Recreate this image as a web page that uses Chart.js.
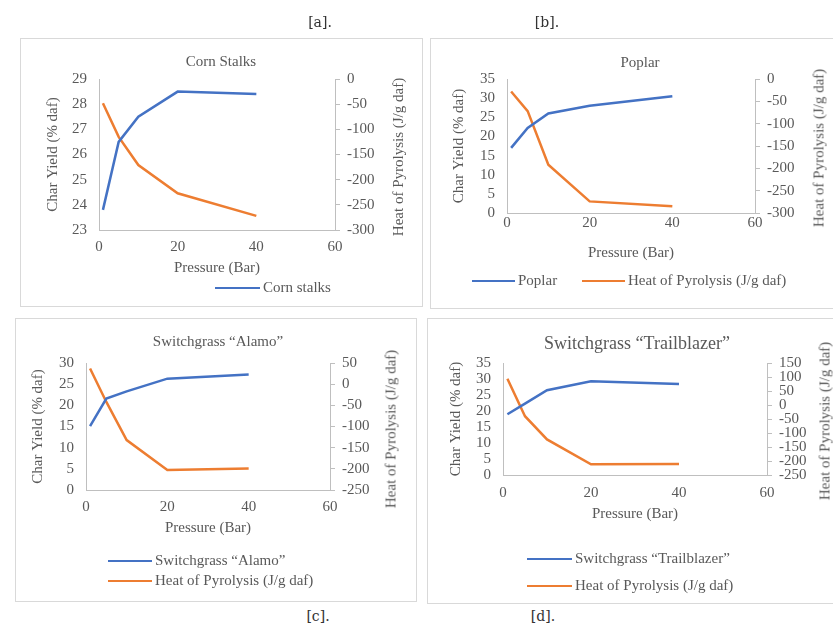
<!DOCTYPE html>
<html lang="en">
<head>
  <meta charset="UTF-8" />
  <title>Char Yield and Heat of Pyrolysis vs Pressure</title>
  <style>
    body {
      margin: 0;
      background: #fff;
      overflow: hidden;
    }
    #page {
      position: relative;
      width: 833px;
      height: 632px;
      font-family: "Liberation Serif", "Times New Roman", serif;
      color: #595959;
    }
    .panel {
      position: absolute;
      background: #fff;
      outline: 1px solid #d9d9d9;
      outline-offset: -1px;
    }
    .panel canvas {
      position: absolute;
      left: 0;
      top: 0;
    }
    .txt {
      position: absolute;
      white-space: nowrap;
      transform: translate(-50%, -50%);
      font-size: 15px;
    }
    .vtxt {
      position: absolute;
      white-space: nowrap;
      transform: translate(-50%, -50%) rotate(-90deg);
      font-size: 15px;
    }
    .cap {
      position: absolute;
      transform: translate(-50%, -50%);
      font-family: "DejaVu Serif", serif;
      font-size: 14px;
      color: #333;
    }
    .leg {
      position: absolute;
      white-space: nowrap;
      font-size: 15px;
      line-height: 18px;
      transform: translateY(-50%);
    }
    .leg i {
      display: inline-block;
      vertical-align: middle;
      height: 0;
      border-top: 2.5px solid;
      margin-right: 3px;
      position: relative;
      top: -1px;
    }
  </style>
</head>
<body>
  <div id="page"></div>

  <script src="https://cdn.jsdelivr.net/npm/chart.js"></script>
  <script>
    // pressure levels (bar)
    const pressure = [1, 5, 10, 20, 40];
    const pressureTicks = [0, 60, 20]; // min, max, step

    // char yield (% daf) per feedstock
    const cornChar = [23.8, 26.5, 27.5, 28.5, 28.4];
    const poplarChar = [17.0, 22.2, 26.0, 28.0, 30.5];
    const alamoChar = [15.1, 21.6, 23.3, 26.3, 27.3];
    const trailChar = [19.0, 22.3, 26.5, 29.3, 28.4];

    // heat of pyrolysis (J/g daf) per feedstock
    const cornHeat = [-48, -115, -171, -227, -272];
    const poplarHeat = [-28, -72, -192, -274, -285];
    const alamoHeat = [37, -42, -132, -203, -199];
    const trailHeat = [94, -40, -123, -212, -211];

    // axis ranges: min, max, step
    const cornCharTicks = [23, 29, 1];
    const cornHeatTicks = [-300, 0, 50];
    const poplarCharTicks = [0, 35, 5];
    const poplarHeatTicks = [-300, 0, 50];
    const alamoCharTicks = [0, 30, 5];
    const alamoHeatTicks = [-250, 50, 50];
    const trailCharTicks = [0, 35, 5];
    const trailHeatTicks = [-250, 150, 50];

    const BLUE = "#4472c4";
    const ORANGE = "#ed7d31";
    const AXIS = "#bfbfbf";
    const TEXT = "#595959";

    Chart.defaults.font.family = '"Liberation Serif", "Times New Roman", serif';
    Chart.defaults.font.size = 15;
    Chart.defaults.color = TEXT;

    const panels = [
      {
        cap: "[a].", capX: 320, capY: 22,
        box: { l: 20, t: 38, w: 403, h: 269 },
        plot: { x0: 99, x1: 335, y0: 79, y1: 230 },
        leftTitleX: 53, rightTitleX: 398, xTickY: 247, xTitleY: 268,
        title: "Corn Stalks", titleX: 221, titleY: 61, titleSize: 15,
        name: "Corn stalks", char: cornChar, heat: cornHeat,
        charTicks: cornCharTicks, heatTicks: cornHeatTicks,
        legend: [{ x: 215, y: 287, len: 45, color: BLUE, text: "Corn stalks" }]
      },
      {
        cap: "[b].", capX: 547, capY: 22,
        box: { l: 430, t: 38, w: 413, h: 271 },
        plot: { x0: 507, x1: 755, y0: 79, y1: 213 },
        leftTitleX: 459, rightTitleX: 819, xTickY: 223, xTitleY: 253,
        title: "Poplar", titleX: 640, titleY: 62, titleSize: 15,
        name: "Poplar", char: poplarChar, heat: poplarHeat,
        charTicks: poplarCharTicks, heatTicks: poplarHeatTicks,
        legend: [
          { x: 472, y: 280, len: 43, color: BLUE, text: "Poplar" },
          { x: 582, y: 280, len: 43, color: ORANGE, text: "Heat of Pyrolysis (J/g daf)" }
        ]
      },
      {
        cap: "[c].", capX: 318, capY: 616,
        box: { l: 15, t: 318, w: 402, h: 284 },
        plot: { x0: 86, x1: 330, y0: 363, y1: 490 },
        leftTitleX: 38, rightTitleX: 391, xTickY: 507, xTitleY: 528,
        title: "Switchgrass \u201cAlamo\u201d", titleX: 218, titleY: 341, titleSize: 15,
        name: "Switchgrass \u201cAlamo\u201d", char: alamoChar, heat: alamoHeat,
        charTicks: alamoCharTicks, heatTicks: alamoHeatTicks,
        legend: [
          { x: 108, y: 560, len: 44, color: BLUE, text: "Switchgrass \u201cAlamo\u201d" },
          { x: 108, y: 580, len: 44, color: ORANGE, text: "Heat of Pyrolysis (J/g daf)" }
        ]
      },
      {
        cap: "[d].", capX: 543, capY: 616,
        box: { l: 427, t: 318, w: 413, h: 286 },
        plot: { x0: 503, x1: 767, y0: 363, y1: 475 },
        leftTitleX: 456, rightTitleX: 825, xTickY: 493, xTitleY: 514,
        title: "Switchgrass \u201cTrailblazer\u201d", titleX: 637, titleY: 343, titleSize: 18,
        name: "Switchgrass \u201cTrailblazer\u201d", char: trailChar, heat: trailHeat,
        charTicks: trailCharTicks, heatTicks: trailHeatTicks,
        legend: [
          { x: 527, y: 558, len: 45, color: BLUE, text: "Switchgrass \u201cTrailblazer\u201d" },
          { x: 527, y: 585, len: 45, color: ORANGE, text: "Heat of Pyrolysis (J/g daf)" }
        ]
      }
    ];

    const page = document.getElementById("page");

    function addText(cls, text, x, y, size) {
      const d = document.createElement("div");
      d.className = cls;
      d.textContent = text;
      d.style.left = x + "px";
      d.style.top = y + "px";
      if (size) d.style.fontSize = size + "px";
      page.appendChild(d);
      return d;
    }

    function buildPanel(p) {
      const { box, plot } = p;
      const half = 9; // half of an 18px text line

      const div = document.createElement("div");
      div.className = "panel";
      Object.assign(div.style, {
        left: box.l + "px", top: box.t + "px",
        width: box.w + "px", height: box.h + "px"
      });
      const canvas = document.createElement("canvas");
      canvas.width = box.w;
      canvas.height = box.h;
      div.appendChild(canvas);
      page.appendChild(div);

      // fixed box sizes so the plot area lands where we want it
      const padL = p.leftTitleX - half - box.l;
      const leftW = plot.x0 - box.l - padL;
      const rightW = p.rightTitleX + half - plot.x1;
      const padR = box.l + box.w - plot.x1 - rightW;
      const padT = plot.y0 - box.t;
      const xH = p.xTitleY + half - plot.y1;
      const padB = box.t + box.h - plot.y1 - xH;

      const pts = vals => pressure.map((x, i) => ({ x, y: vals[i] }));

      new Chart(canvas.getContext("2d"), {
        type: "line",
        data: {
          datasets: [
            {
              label: p.name,
              data: pts(p.char),
              borderColor: BLUE,
              borderWidth: 2.5,
              pointRadius: 0,
              yAxisID: "yChar"
            },
            {
              label: "Heat of Pyrolysis (J/g daf)",
              data: pts(p.heat),
              borderColor: ORANGE,
              borderWidth: 2.5,
              pointRadius: 0,
              yAxisID: "yHeat"
            }
          ]
        },
        options: {
          responsive: false,
          animation: false,
          devicePixelRatio: 1,
          layout: { padding: { left: padL, right: padR, top: padT, bottom: padB } },
          plugins: { legend: { display: false }, title: { display: false }, tooltip: { enabled: false } },
          scales: {
            x: {
              type: "linear",
              min: pressureTicks[0], max: pressureTicks[1],
              ticks: { stepSize: pressureTicks[2], padding: p.xTickY - plot.y1 - half },
              grid: { display: false, drawTicks: false },
              border: { display: true, color: AXIS, width: 1 },
              title: { display: true, text: "Pressure (Bar)", padding: 0 },
              afterFit: s => { s.height = xH; }
            },
            yChar: {
              position: "left",
              min: p.charTicks[0], max: p.charTicks[1],
              ticks: { stepSize: p.charTicks[2], padding: 12, autoSkip: false },
              grid: { display: false, drawTicks: false },
              border: { display: true, color: AXIS, width: 1 },
              title: { display: true, text: "Char Yield (% daf)", padding: 0 },
              afterFit: s => { s.width = leftW; }
            },
            yHeat: {
              position: "right",
              min: p.heatTicks[0], max: p.heatTicks[1],
              ticks: { stepSize: p.heatTicks[2], padding: 7, autoSkip: false },
              grid: { display: true, drawOnChartArea: false, drawTicks: true, tickLength: 5, color: AXIS },
              border: { display: true, color: AXIS, width: 1 },
              afterFit: s => { s.width = rightW; }
            }
          }
        }
      });

      // chart title, right axis title, legend and panel caption
      addText("txt", p.title, p.titleX, p.titleY, p.titleSize);
      addText("vtxt", "Heat of Pyrolysis (J/g daf)", p.rightTitleX, (plot.y0 + plot.y1) / 2 + 2);
      addText("cap", p.cap, p.capX, p.capY);
      p.legend.forEach(item => {
        const d = document.createElement("div");
        d.className = "leg";
        d.style.left = item.x + "px";
        d.style.top = item.y + "px";
        const line = document.createElement("i");
        line.style.width = item.len + "px";
        line.style.borderTopColor = item.color;
        d.appendChild(line);
        d.appendChild(document.createTextNode(item.text));
        page.appendChild(d);
      });
    }

    panels.forEach(buildPanel);
  </script>
</body>
</html>
